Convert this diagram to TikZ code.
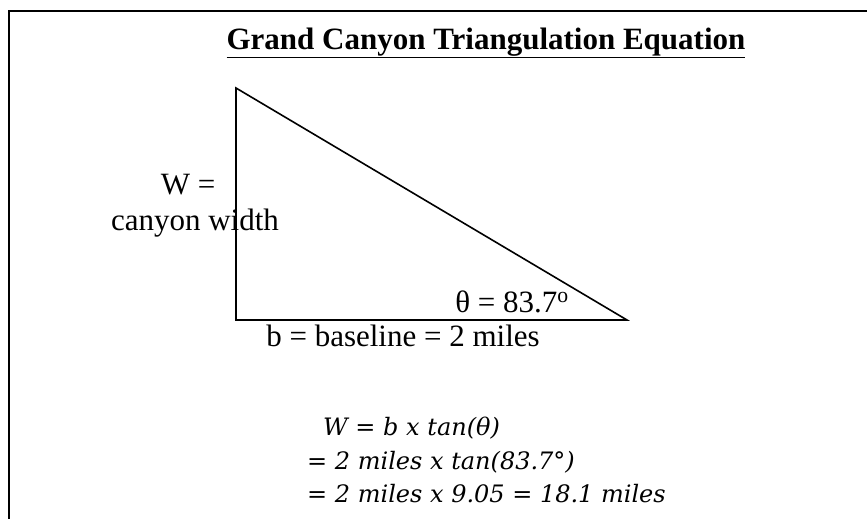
\documentclass[tikz,border=0pt]{standalone}
\usepackage{fontspec}
\setmainfont{Liberation Serif}
\newfontfamily\eqfont{DejaVu Serif}
\usetikzlibrary{positioning}

\begin{document}
\begin{tikzpicture}[x=1pt,y=-1pt,
  txt/.style={inner sep=0pt,anchor=base,font=\fontsize{31}{36}\selectfont},
  eqn/.style={inner sep=0pt,anchor=base west,font=\eqfont\itshape\fontsize{24}{28}\selectfont},
  side/.style={line width=1.6pt,line join=miter}]
  \useasboundingbox (0,0) rectangle (867,519);
  % frame
  \coordinate (fb) at (9,519);
  \coordinate (fc) at (9,11);
  \coordinate (fr) at (867,11);
  \draw[line width=2.5pt] (fb) -- (fc) -- (fr);
  % title
  \node[txt,font=\fontsize{31}{36}\selectfont\bfseries] (title) at (486,49)
    {\underline{Grand Canyon Triangulation Equation}};
  % triangle
  \coordinate (top) at (236,88);
  \coordinate (corner) at (236,320);
  \coordinate (tip) at (627,320);
  \draw[side] (top) -- (corner) -- (tip) -- cycle;
  % labels
  \node[txt] (weq) at (188,194) {W =};
  \node[txt] (wname) at (195,230) {canyon width};
  \node[txt] (angle) at (512,312) {θ = 83.7\textsuperscript{o}};
  \node[txt] (base) at (403,346) {b = baseline = 2 miles};
  % equation
  \node[eqn] (eq1) at (323,435) {W = b x tan(θ)};
  \node[eqn] (eq2) at (307,469) {= 2 miles x tan(83.7°)};
  \node[eqn] (eq3) at (307,502) {= 2 miles x 9.05 = 18.1 miles};
\end{tikzpicture}
\end{document}
